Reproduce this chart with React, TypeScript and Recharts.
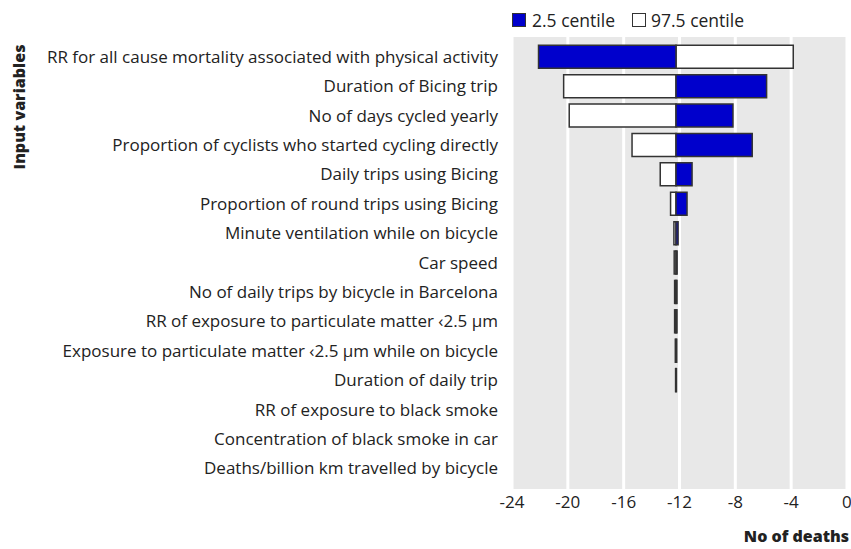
import React from 'react';
import { BarChart, Bar, XAxis, YAxis, CartesianGrid } from 'recharts';

const variables = [
  'RR for all cause mortality associated with physical activity',
  'Duration of Bicing trip',
  'No of days cycled yearly',
  'Proportion of cyclists who started cycling directly',
  'Daily trips using Bicing',
  'Proportion of round trips using Bicing',
  'Minute ventilation while on bicycle',
  'Car speed',
  'No of daily trips by bicycle in Barcelona',
  'RR of exposure to particulate matter \u20392.5 \u03bcm',
  'Exposure to particulate matter \u20392.5 \u03bcm while on bicycle',
  'Duration of daily trip',
  'RR of exposure to black smoke',
  'Concentration of black smoke in car',
  'Deaths/billion km travelled by bicycle',
];

// deaths at the base case estimate
const baseline = -12.25;
const centile2_5 = [-22.1, -5.76, -8.17, -6.79, -11.1, -11.46, -12.1, -12.17, -12.18, -12.18, -12.2, -12.22, -12.25, -12.25, -12.25];
const centile97_5 = [-3.85, -20.3, -19.9, -15.4, -13.38, -12.64, -12.4, -12.38, -12.35, -12.35, -12.3, -12.28, -12.25, -12.25, -12.25];
const xTicks = [-24, -20, -16, -12, -8, -4, 0];

const data = variables.map((name, i) => ({
  name,
  low: [baseline, centile2_5[i]],
  high: [baseline, centile97_5[i]],
}));

const FONT = '"Open Sans", sans-serif';
const BLUE = '#0000cc';

const App: React.FC = () => {
  return (
    <div style={{ position: 'absolute', left: 0, top: 0, width: 851, height: 549, fontFamily: FONT, color: '#222' }}>
      <BarChart
        width={851}
        height={549}
        data={data}
        layout="vertical"
        margin={{ top: 37, right: 4, left: 0, bottom: 30 }}
        barCategoryGap="11%"
      >
        <CartesianGrid horizontal={false} fill="#e8e8e8" stroke="#ffffff" strokeWidth={3} />
        <XAxis
          type="number"
          domain={[-24, 0]}
          ticks={xTicks}
          allowDataOverflow
          axisLine={false}
          tickLine={false}
          tickMargin={1}
          height={30}
          tick={{ fill: '#222', fontSize: 17, fontFamily: FONT }}
        />
        <YAxis
          type="category"
          dataKey="name"
          width={512}
          padding={{ top: 5, bottom: 6 }}
          axisLine={false}
          tickLine={false}
          tickSize={0}
          tickMargin={14}
          interval={0}
          tick={{ fill: '#222', fontSize: 17, fontFamily: FONT }}
        />
        <YAxis yAxisId="overlay" type="category" dataKey="name" padding={{ top: 5, bottom: 6 }} hide />
        <Bar dataKey="high" fill="#ffffff" stroke="#333333" strokeWidth={1.5} isAnimationActive={false} />
        <Bar dataKey="low" yAxisId="overlay" fill={BLUE} stroke="#333333" strokeWidth={1.5} isAnimationActive={false} />
      </BarChart>

      <div style={{ position: 'absolute', left: 512, top: 8, display: 'flex', alignItems: 'center', fontSize: 17.5 }}>
        <span style={{ width: 12, height: 12, background: BLUE, border: '1px solid #333', marginRight: 6 }} />
        <span>2.5 centile</span>
        <span style={{ width: 12, height: 12, background: '#fff', border: '1px solid #333', marginLeft: 17, marginRight: 5 }} />
        <span>97.5 centile</span>
      </div>

      <div
        style={{
          position: 'absolute',
          left: 19,
          top: 107,
          transform: 'translate(-50%, -50%) rotate(-90deg)',
          fontWeight: 800,
          fontSize: 16,
          whiteSpace: 'nowrap',
        }}
      >
        Input variables
      </div>
      <div style={{ position: 'absolute', right: 2, top: 525, fontWeight: 800, fontSize: 16 }}>No of deaths</div>
    </div>
  );
};

export default App;
